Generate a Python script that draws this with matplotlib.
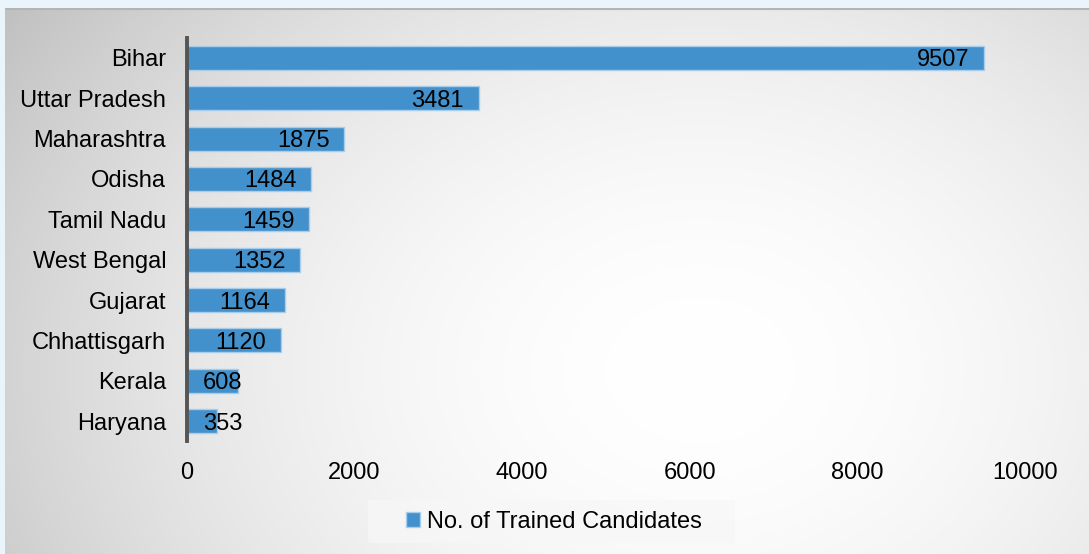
import numpy as np
import matplotlib
matplotlib.use("Agg")
import matplotlib.pyplot as plt
from matplotlib.patches import Patch, Rectangle

plt.rcParams['font.family'] = ['Liberation Sans', 'DejaVu Sans']

states = ["Bihar", "Uttar Pradesh", "Maharashtra", "Odisha", "Tamil Nadu",
          "West Bengal", "Gujarat", "Chhattisgarh", "Kerala", "Haryana"]
trained = [9507, 3481, 1875, 1484, 1459, 1352, 1164, 1120, 608, 353]
xticks = [0, 2000, 4000, 6000, 8000, 10000]
legend_label = "No. of Trained Candidates"

W, H = 1089, 554
fig = plt.figure(figsize=(W / 100, H / 100), dpi=100, facecolor='#eaf5fb')

# gradient panel background
px0, py0 = 5, 8
bg = fig.add_axes([px0 / W, 0, 1 - px0 / W, 1 - py0 / H])
yy, xx = np.mgrid[py0:H, px0:W]
cx, cy = 700, 370
d = np.sqrt(((xx - cx) / 1.3) ** 2 + (yy - cy) ** 2)
t = np.clip(d / 650, 0, 1) ** 1.9
g = 1.0 - 0.25 * t
img = np.dstack([g, g, g])
bg.imshow(img, aspect='auto', interpolation='bilinear', extent=[0, 1, 0, 1])
bg.set_xlim(0, 1); bg.set_ylim(0, 1)
bg.axis('off')
bg.plot([0, 1], [0.999, 0.999], color='#b4b4b4', lw=1.5, transform=bg.transAxes)

# legend backdrop
fig.patches.append(Rectangle((368 / W, 1 - 543 / H), (735 - 368) / W, 43 / H,
                             transform=fig.transFigure, facecolor='#f7f7f7',
                             edgecolor='none', alpha=0.75, zorder=1))

ax = fig.add_axes([187 / W, 1 - 441.2 / H, (1025 - 187) / W, (441.2 - 37.8) / H])
ax.set_facecolor('none')
pos = np.arange(len(states))
bars = ax.barh(pos, trained, height=0.6, color='#4391cc', edgecolor='#a7cdea',
               linewidth=1.0, zorder=2)
ax.set_ylim(len(states) - 0.5, -0.5)
ax.set_xlim(0, 10000)
ax.set_yticks(pos)
ax.set_yticklabels(states)
ax.set_xticks(xticks)
ax.set_xticklabels([str(v) for v in xticks])
ax.tick_params(axis='y', length=0, pad=15, labelsize=17, labelcolor='#000000')
ax.tick_params(axis='x', length=0, pad=15, labelsize=17, labelcolor='#000000')
for s in ['top', 'right', 'bottom']:
    ax.spines[s].set_visible(False)
ax.spines['left'].set_color('#555555')
ax.spines['left'].set_linewidth(2.8)
ax.spines['left'].set_zorder(3)

pad = 175
for y, v in zip(pos, trained):
    width_est = (465 if v < 1000 else 620)
    if v - pad - width_est < pad:
        ax.text(190, y, str(v), ha='left', va='center_baseline', fontsize=17,
                color='#000000', zorder=4)
    else:
        ax.text(v - pad, y, str(v), ha='right', va='center_baseline', fontsize=17,
                color='#000000', zorder=4)

handle = Patch(facecolor='#4391cc', edgecolor='#a7cdea', linewidth=1.0)
leg = fig.legend([handle], [legend_label], loc='center',
                 bbox_to_anchor=(554 / W, 1 - 521.5 / H), frameon=False,
                 fontsize=17, handlelength=0.6, handleheight=0.6, handletextpad=0.3,
                 borderpad=0.3, borderaxespad=0)
for txt in leg.get_texts():
    txt.set_color('#000000')

fig.savefig('out.png', dpi=100, facecolor=fig.get_facecolor())
